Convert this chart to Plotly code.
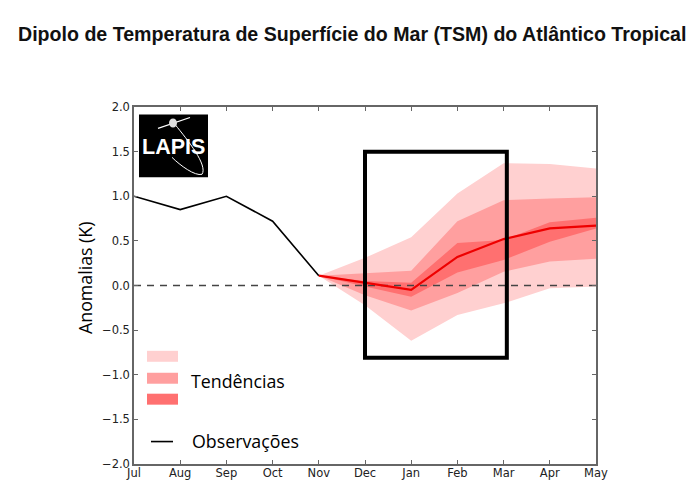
import plotly.graph_objects as go

months = ['Jul', 'Aug', 'Sep', 'Oct', 'Nov', 'Dec', 'Jan', 'Feb', 'Mar', 'Apr', 'May']
y_ticks = [2.0, 1.5, 1.0, 0.5, 0.0, -0.5, -1.0, -1.5, -2.0]
y_labels = ['2.0', '1.5', '1.0', '0.5', '0.0', '\u22120.5', '\u22121.0', '\u22121.5', '\u22122.0']

# observations Jul-Nov
obs_months = months[:5]
obs = [1.0, 0.85, 1.0, 0.72, 0.11]

# forecast Nov-May
fc_months = months[4:]
fc_mean = [0.11, 0.03, -0.05, 0.32, 0.52, 0.64, 0.67]
light_hi = [0.11, 0.31, 0.54, 1.03, 1.37, 1.36, 1.31]
light_lo = [0.11, -0.22, -0.62, -0.33, -0.20, -0.03, -0.01]
mid_hi = [0.11, 0.14, 0.165, 0.72, 0.955, 0.975, 0.99]
mid_lo = [0.11, -0.11, -0.28, -0.085, 0.155, 0.27, 0.30]
dark_hi = [0.11, 0.05, 0.03, 0.475, 0.51, 0.71, 0.76]
dark_lo = [0.11, -0.01, -0.125, 0.145, 0.285, 0.49, 0.64]

LIGHT = '#ffd0d0'
MID = '#ff9f9f'
DARK = '#ff7070'
SPINE = '#666666'

fig = go.Figure()


def band(lo, hi, color):
    fig.add_trace(go.Scatter(x=fc_months + fc_months[::-1], y=hi + lo[::-1], mode='lines',
                             fill='toself', fillcolor=color, line=dict(width=0),
                             hoverinfo='skip', showlegend=False))


band(light_lo, light_hi, LIGHT)
band(mid_lo, mid_hi, MID)
band(dark_lo, dark_hi, DARK)

fig.add_trace(go.Scatter(x=[months[0], months[-1]], y=[0, 0], mode='lines',
                         line=dict(color='#444444', width=1.3, dash='7px,6px'), showlegend=False))
fig.add_trace(go.Scatter(x=obs_months, y=obs, mode='lines',
                         line=dict(color='black', width=1.6), showlegend=False))
fig.add_trace(go.Scatter(x=fc_months, y=fc_mean, mode='lines',
                         line=dict(color='#ee0000', width=2.2), showlegend=False))

# the page body has an 8px margin, figure is drawn from there
PAGE = 8
L, R, T, B = 134, 596, 106.5, 464.5


def px(x):
    return (x - L) / (R - L)


def py(y):
    return (B - y) / (B - T)


def note(text, x, y, size, family='Open Sans', color='black', anchor='left', angle=0):
    return dict(text=text, xref='paper', yref='paper', x=px(x), y=py(y), xanchor=anchor,
                yanchor='middle', textangle=angle, showarrow=False,
                font=dict(family=family, size=size, color=color))


shapes = [
    # highlighted window
    dict(type='rect', xref='x', yref='y', x0=5.0, x1=8.07, y0=-0.81, y1=1.5,
         line=dict(color='black', width=4), layer='above'),
    # logo
    dict(type='rect', xref='paper', yref='paper', x0=px(139), x1=px(208), y0=py(177), y1=py(114),
         fillcolor='black', line=dict(width=0)),
    dict(type='path', xref='paper', yref='paper',
         path=f'M {px(175)} {py(124)} C {px(188)} {py(140)} {px(208)} {py(165)} {px(202)} {py(174)} '
              f'C {px(195)} {py(176)} {px(180)} {py(165)} {px(172)} {py(157)}',
         line=dict(color='white', width=1)),
    dict(type='line', xref='paper', yref='paper', x0=px(158), x1=px(190), y0=py(128), y1=py(117),
         line=dict(color='white', width=1.2)),
    dict(type='circle', xref='paper', yref='paper', x0=px(169), x1=px(177), y0=py(127), y1=py(118),
         fillcolor='#dddddd', line=dict(width=0)),
    # legend patches
    dict(type='rect', xref='paper', yref='paper', x0=px(147), x1=px(178), y0=py(362), y1=py(351),
         fillcolor=LIGHT, line=dict(width=0)),
    dict(type='rect', xref='paper', yref='paper', x0=px(147), x1=px(178), y0=py(384), y1=py(373),
         fillcolor=MID, line=dict(width=0)),
    dict(type='rect', xref='paper', yref='paper', x0=px(147), x1=px(178), y0=py(405), y1=py(394),
         fillcolor=DARK, line=dict(width=0)),
    dict(type='line', xref='paper', yref='paper', x0=px(151), x1=px(173), y0=py(442), y1=py(442),
         line=dict(color='black', width=1.6)),
]

annotations = [
    note('Anomalias (K)', 85, 278, 17.8, anchor='center', angle=-90),
    note('<b>LAPIS</b>', 173.5, 147, 21.5, family='Liberation Sans', color='white', anchor='center'),
    note('Tendências', 189, 381, 17.8),
    note('Observações', 190, 441, 17.8),
    note('<b>Dipolo de Temperatura de Superfície do Mar (TSM) do Atlântico Tropical</b>',
         351.5, 33, 19.6, family='Liberation Sans', color='#111111', anchor='center'),
]

fig.update_layout(
    width=700 - PAGE, height=501 - PAGE, autosize=False,
    margin=dict(l=L - PAGE, r=700 - R, t=T - PAGE, b=501 - B),
    paper_bgcolor='white', plot_bgcolor='white',
    shapes=shapes, annotations=annotations,
    font=dict(family='DejaVu Sans', size=11.5, color='#222222'),
)
fig.update_xaxes(type='category', categoryorder='array', categoryarray=months,
                 range=[0, 10], showgrid=False, zeroline=False, showline=True, mirror='ticks',
                 linecolor=SPINE, linewidth=1.5, ticks='inside', ticklen=4, tickcolor=SPINE,
                 tickvals=months, ticktext=months, tickangle=0, ticklabelstandoff=-3)
fig.update_yaxes(range=[-2, 2], showgrid=False, zeroline=False, showline=True, mirror='ticks',
                 linecolor=SPINE, linewidth=1.5, ticks='inside', ticklen=4, tickcolor=SPINE,
                 tickvals=y_ticks, ticktext=y_labels)

fig.write_html("out.html")
